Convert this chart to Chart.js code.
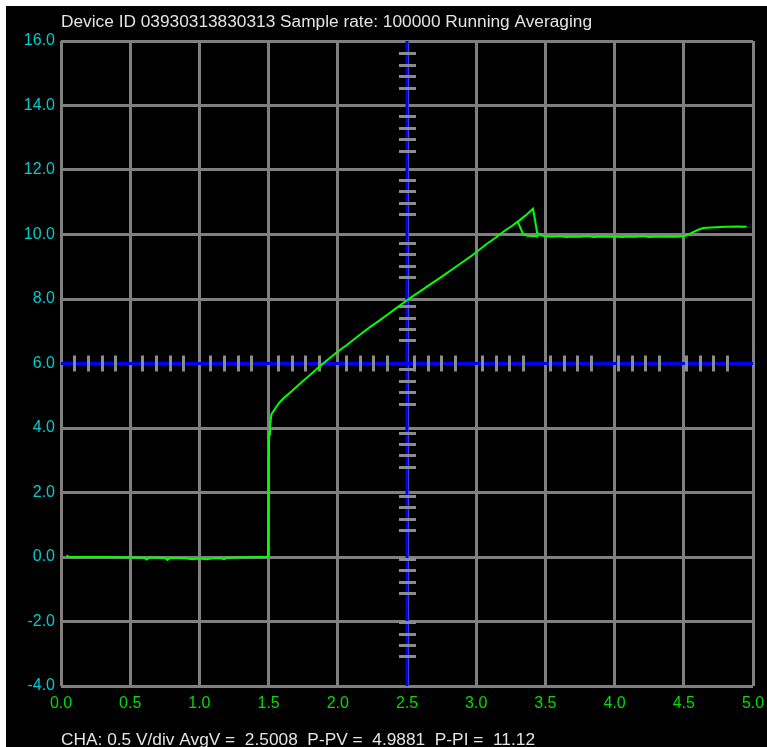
<!DOCTYPE html>
<html><head><meta charset="utf-8">
<script src="https://cdn.jsdelivr.net/npm/chart.js@4.4.0/dist/chart.umd.min.js"></script>
<style>
html,body{margin:0;padding:0;background:#fff;overflow:hidden;}
#wrap{position:absolute;left:6px;top:6px;width:761px;height:741px;background:#000;}
canvas{display:block;}
</style></head><body>
<div id="wrap"><canvas id="c" width="761" height="741"></canvas></div>
<script>
const titleText = "Device ID 03930313830313 Sample rate: 100000 Running Averaging";
const footerText = "CHA: 0.5 V/div AvgV =  2.5008  P-PV =  4.9881  P-PI =  11.12";
const xTickValues = [0, 0.5, 1, 1.5, 2, 2.5, 3, 3.5, 4, 4.5, 5];
const yTickValues = [-4, -2, 0, 2, 4, 6, 8, 10, 12, 14, 16];
const xCenter = 2.5;
const yCenter = 6;

const traceX = [0.04, 0.06, 0.15, 0.30, 0.45, 0.60, 0.62, 0.64, 0.75, 0.77, 0.79, 0.90, 0.95, 1.00, 1.05, 1.10, 1.15, 1.18, 1.20, 1.30, 1.40, 1.495,
  1.500, 1.503, 1.51, 1.52, 1.55, 1.58, 1.61, 1.65, 1.70, 1.76, 1.82, 1.88, 1.94, 2.00, 2.06, 2.12, 2.18, 2.24, 2.30, 2.36, 2.42, 2.48,
  2.54, 2.60, 2.66, 2.72, 2.78, 2.84, 2.90, 2.96, 3.02, 3.08, 3.14, 3.20, 3.26, 3.30, 3.36, 3.41, 3.425, 3.44, 3.47,
  3.50, 3.55, 3.60, 3.65, 3.70, 3.75, 3.80, 3.85, 3.90, 3.95, 4.00, 4.05, 4.10, 4.15, 4.20, 4.25, 4.30, 4.35, 4.40, 4.45, 4.50,
  4.52, 4.56, 4.60, 4.64, 4.70, 4.80, 4.90, 4.955];
const traceY = [0.05, 0.00, 0.00, 0.00, -0.01, -0.02, -0.08, -0.01, -0.03, -0.09, -0.02, -0.04, -0.07, -0.05, -0.07, -0.04, -0.03, -0.07, -0.02, -0.01, 0.00, 0.00,
  2.0, 3.8, 4.05, 4.42, 4.62, 4.80, 4.93, 5.08, 5.27, 5.50, 5.72, 5.95, 6.16, 6.37, 6.56, 6.76, 6.96, 7.15, 7.33, 7.52, 7.71, 7.90,
  8.08, 8.25, 8.43, 8.60, 8.78, 8.96, 9.14, 9.32, 9.52, 9.72, 9.90, 10.10, 10.27, 10.40, 10.60, 10.80, 10.45, 10.05, 9.97,
  9.95, 9.93, 9.95, 9.92, 9.94, 9.93, 9.95, 9.92, 9.94, 9.93, 9.94, 9.92, 9.94, 9.93, 9.95, 9.92, 9.94, 9.93, 9.94, 9.93, 9.95,
  9.97, 10.06, 10.14, 10.20, 10.22, 10.24, 10.25, 10.24];
const branchX = [3.30, 3.32, 3.34, 3.37, 3.41, 3.45];
const branchY = [10.40, 10.20, 10.01, 9.96, 9.95, 9.94];

const FONT = "'Liberation Sans', Arial, sans-serif";
const toPts = (xs, ys) => xs.map((v, i) => ({x: v, y: ys[i]}));

const scopePlugin = {
  id: 'scope',
  beforeDatasetsDraw(chart) {
    const {ctx, chartArea: a, scales: {x, y}} = chart;
    const cx = x.getPixelForValue(xCenter);
    const cy = y.getPixelForValue(yCenter);
    ctx.save();
    ctx.strokeStyle = '#0000ff';
    ctx.lineWidth = 3;
    ctx.beginPath();
    ctx.moveTo(cx, a.top); ctx.lineTo(cx, a.bottom);
    ctx.moveTo(a.left, cy); ctx.lineTo(a.right, cy);
    ctx.stroke();
    ctx.strokeStyle = '#8c8c8c';
    ctx.beginPath();
    for (let m = 0; m < 10; m++) {
      for (let k = 0; k < 4; k++) {
        const v = 0.097 + 0.491 * m + 0.0982 * k;
        if (v >= x.max) continue;
        const px = Math.round(x.getPixelForValue(v)) + 0.5;
        ctx.moveTo(px, cy - 8); ctx.lineTo(px, cy + 8);
      }
    }
    for (let m = -7; m <= 3; m++) {
      for (let k = 0; k < 4; k++) {
        const v = 9.74 + 1.96 * m - 0.354 * k;
        if (v <= y.min + 0.1 || v >= y.max) continue;
        const py = Math.round(y.getPixelForValue(v)) + 0.5;
        ctx.moveTo(cx - 8, py); ctx.lineTo(cx + 9, py);
      }
    }
    ctx.stroke();
    ctx.restore();
  },
  afterDraw(chart) {
    const ctx = chart.ctx;
    const drawFit = (t, x, yb, size, target, color) => {
      ctx.save();
      ctx.font = size + 'px ' + FONT;
      ctx.fillStyle = color;
      ctx.textBaseline = 'alphabetic';
      ctx.textAlign = 'left';
      const w = ctx.measureText(t).width;
      ctx.translate(x, yb);
      ctx.scale(target / w, 1);
      ctx.fillText(t, 0, 0);
      ctx.restore();
    };
    drawFit(titleText, 55, 21, 16, 531, '#e4e4e4');
    drawFit(footerText, 55, 739, 17, 474, '#e4e4e4');
  }
};

new Chart(document.getElementById('c'), {
  type: 'scatter',
  data: {
    datasets: [
      {data: toPts(traceX, traceY), showLine: true, borderColor: '#00ff00', borderWidth: 2, pointRadius: 0, tension: 0},
      {data: toPts(branchX, branchY), showLine: true, borderColor: '#00ff00', borderWidth: 2, pointRadius: 0, tension: 0}
    ]
  },
  options: {
    responsive: false,
    animation: false,
    events: [],
    layout: {padding: {top: 35, right: 14, left: 0, bottom: 0}},
    plugins: {legend: {display: false}, tooltip: {enabled: false}, title: {display: false}},
    scales: {
      x: {
        type: 'linear', min: 0, max: 5,
        afterBuildTicks: s => { s.ticks = xTickValues.map(v => ({value: v})); },
        afterFit: s => { s.height = 61; s.paddingLeft = 0; s.paddingRight = 0; },
        ticks: {callback: v => Number(v).toFixed(1), color: '#00dd00', font: {family: FONT, size: 16}, padding: 8, maxRotation: 0, autoSkip: false},
        grid: {color: '#808080', lineWidth: 3, drawTicks: false, tickLength: 0},
        border: {display: false}
      },
      y: {
        type: 'linear', min: -4, max: 16,
        afterBuildTicks: s => { s.ticks = yTickValues.map(v => ({value: v})); },
        afterFit: s => { s.width = 55; s.paddingTop = 0; s.paddingBottom = 0; },
        ticks: {callback: v => Number(v).toFixed(1), color: '#00cccc', font: {family: FONT, size: 16}, padding: 6, autoSkip: false},
        grid: {color: '#808080', lineWidth: 3, drawTicks: false, tickLength: 0},
        border: {display: false}
      }
    }
  },
  plugins: [scopePlugin]
});
</script>
</body></html>
